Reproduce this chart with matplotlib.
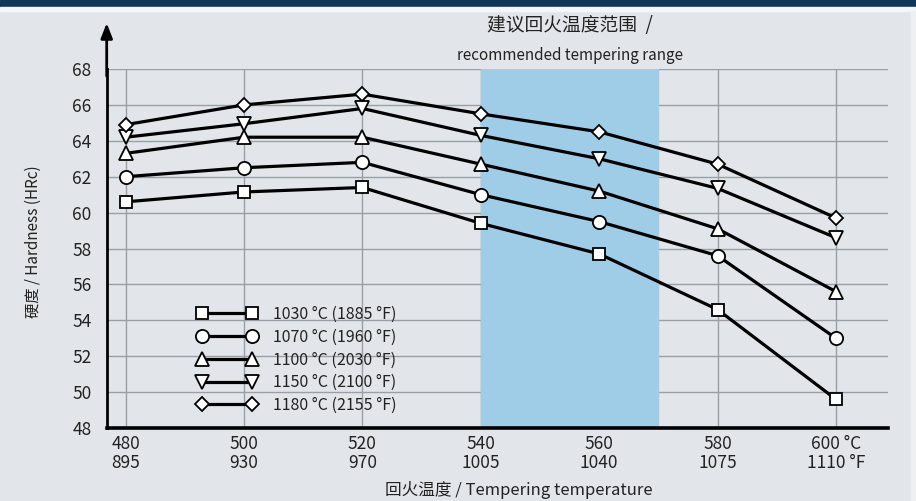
import matplotlib
matplotlib.use("Agg")
from matplotlib import pyplot as plt
from matplotlib.patches import Rectangle

# tempering temperatures (°C on top row, °F below)
temps_c = [480, 500, 520, 540, 560, 580, 600]
temps_f = [895, 930, 970, 1005, 1040, 1075, 1110]

# hardness (HRc) for each hardening temperature
hardness_1030 = [60.6, 61.15, 61.4, 59.4, 57.7, 54.6, 49.6]
hardness_1070 = [62.0, 62.5, 62.8, 61.0, 59.5, 57.6, 53.0]
hardness_1100 = [63.3, 64.2, 64.2, 62.7, 61.2, 59.1, 55.6]
hardness_1150 = [64.2, 64.95, 65.8, 64.3, 63.0, 61.35, 58.6]
hardness_1180 = [64.9, 66.0, 66.6, 65.5, 64.5, 62.7, 59.7]

series_labels = [
    "1030 °C (1885 °F)",
    "1070 °C (1960 °F)",
    "1100 °C (2030 °F)",
    "1150 °C (2100 °F)",
    "1180 °C (2155 °F)",
]

recommended_range = (540, 570)

y_ticks = [48, 50, 52, 54, 56, 58, 60, 62, 64, 66, 68]

plt.rcParams["font.family"] = ["Noto Sans CJK SC", "DejaVu Sans"]

bg = "#e2e6ea"
text_color = "#222222"
fig = plt.figure(figsize=(9.16, 5.01), dpi=100, facecolor=bg)

# header bar
fig.patches.append(Rectangle((0, 1 - 7 / 501), 1, 7 / 501, transform=fig.transFigure,
                             color="#0f3558", zorder=0))
fig.patches.append(Rectangle((0, 1 - 11 / 501), 1, 4 / 501, transform=fig.transFigure,
                             color="#f4f6f8", zorder=0))
fig.patches.append(Rectangle((911 / 916, 0), 5 / 916, 1 - 11 / 501, transform=fig.transFigure,
                             color="#eef0f2", zorder=0))

ax = fig.add_axes([106.7 / 916, 73 / 501, (888 - 106.7) / 916, (428 - 69) / 501])
ax.set_facecolor(bg)
ax.set_xlim(476.8, 608.8)
ax.set_ylim(48, 68)

ax.axvspan(recommended_range[0], recommended_range[1], color="#9fcde8", zorder=1)

ax.set_xticks(temps_c)
tick_labels = [f"{c}\n{f}" for c, f in zip(temps_c, temps_f)]
tick_labels[-1] = f"{temps_c[-1]} °C\n{temps_f[-1]} °F"
ax.set_xticklabels(tick_labels, fontsize=12.5, color=text_color, linespacing=1.05)
ax.set_yticks(y_ticks)
ax.set_yticklabels([str(v) for v in y_ticks], fontsize=12.5, color=text_color)
ax.tick_params(length=0, pad=5)
ax.tick_params(axis="y", pad=11)
ax.grid(True, color="#9a9fa5", linewidth=1.0, zorder=2)
ax.set_axisbelow(True)

for side in ["top", "right"]:
    ax.spines[side].set_visible(False)
ax.spines["left"].set_linewidth(2.0)
ax.spines["bottom"].set_linewidth(2.6)

# y axis arrow
ax.annotate("", xy=(0, 1.128), xytext=(0, 0.98), xycoords="axes fraction",
            arrowprops=dict(arrowstyle="-|>,head_length=0.9,head_width=0.35",
                            color="black", lw=2.0, shrinkA=0, shrinkB=0),
            annotation_clip=False)

styles = [
    (hardness_1030, "s", 9.0),
    (hardness_1070, "o", 9.5),
    (hardness_1100, "^", 10.5),
    (hardness_1150, "v", 10.5),
    (hardness_1180, "D", 7.5),
]
for (values, marker, ms), label in zip(styles, series_labels):
    ax.plot(temps_c, values, color="black", linewidth=2.3, marker=marker,
            markersize=ms, markerfacecolor="white", markeredgecolor="black",
            markeredgewidth=1.3, label=label, zorder=4, clip_on=False)

leg = ax.legend(loc="upper left", bbox_to_anchor=(197 / 916, 1 - 306 / 501),
                bbox_transform=fig.transFigure, frameon=False, numpoints=2,
                fontsize=11.5, handlelength=3.75, handletextpad=1.0,
                labelspacing=0.36, borderpad=0, borderaxespad=0)
for t in leg.get_texts():
    t.set_color(text_color)

fig.text(570 / 916, 1 - 25 / 501, "建议回火温度范围  /", ha="center", va="center",
         fontsize=13.5, color=text_color)
fig.text(570 / 916, 1 - 55 / 501, "recommended tempering range", ha="center",
         va="center", fontsize=11, color=text_color)
fig.text(33 / 916, 1 - 242 / 501, "硬度 / Hardness (HRc)", rotation=90, ha="center",
         va="center", fontsize=11, color=text_color)
fig.text(519 / 916, 1 - 490 / 501, "回火温度 / Tempering temperature", ha="center",
         va="center", fontsize=12, color=text_color)

fig.savefig("out.png", dpi=100, facecolor=bg)
